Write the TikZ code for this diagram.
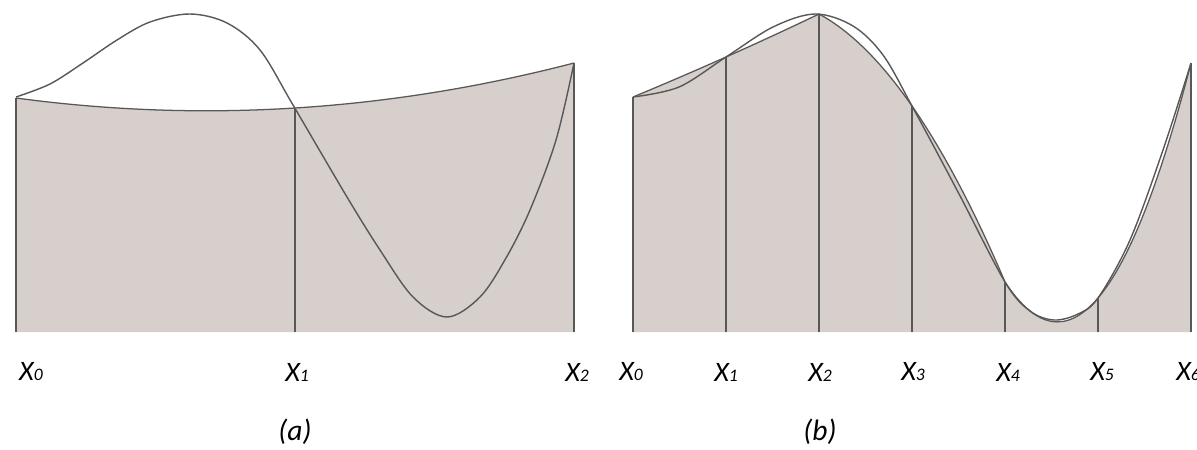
\documentclass[tikz,border=0pt]{standalone}
\usepackage{fontspec}
\setmainfont{Carlito}
\usetikzlibrary{calc}
\definecolor{areafill}{RGB}{214,207,203}
\definecolor{penline}{RGB}{88,88,88}
\newcommand\xlab[1]{X{\fontsize{12.5}{14}\selectfont #1}}

\begin{document}
\begin{tikzpicture}[
    x=0.025cm, y=-0.025cm,
    ord/.style={line width=0.9pt, draw=penline},
    approx/.style={line width=0.9pt, draw=penline},
    curve/.style={line width=1pt, draw=penline},
    lab/.style={font=\fontsize{20}{24}\selectfont\itshape, inner sep=0pt},
    panelcap/.style={font=\fontsize{21}{25}\selectfont\itshape, inner sep=0pt}
]
\useasboundingbox (0,0) rectangle (1197,449);
\coordinate (base) at (0,332);

% (a) one parabola over [x0,x2]
\coordinate (a0) at (16,98);
\coordinate (a1) at (295,108);
\coordinate (a2) at (574,63);
\coordinate (ca) at ($2*(a1)-0.5*(a0)-0.5*(a2)$);
\fill[areafill] (a0 |- base) -- (a0)
    .. controls ($(a0)!2/3!(ca)$) and ($(a2)!2/3!(ca)$) .. (a2) -- (a2 |- base) -- cycle;
\foreach \i in {0,1,2}
    \draw[ord] (a\i |- base) -- (a\i);
\draw[approx] (a0) .. controls ($(a0)!2/3!(ca)$) and ($(a2)!2/3!(ca)$) .. (a2);

% (b) three parabolas over six strips
\foreach \i/\y in {0/97, 1/57, 2/14, 3/106, 4/282, 5/298, 6/63}
    \coordinate (b\i) at ({633+93*\i},\y);
\foreach \i/\j/\k in {1/0/2, 3/2/4, 5/4/6}
    \coordinate (c\i) at ($2*(b\i)-0.5*(b\j)-0.5*(b\k)$);
\fill[areafill] (b0 |- base) -- (b0)
    .. controls ($(b0)!2/3!(c1)$) and ($(b2)!2/3!(c1)$) .. (b2)
    .. controls ($(b2)!2/3!(c3)$) and ($(b4)!2/3!(c3)$) .. (b4)
    .. controls ($(b4)!2/3!(c5)$) and ($(b6)!2/3!(c5)$) .. (b6)
    -- (b6 |- base) -- cycle;
\foreach \i in {0,...,6}
    \draw[ord] (b\i |- base) -- (b\i);
\draw[approx] (b0)
    .. controls ($(b0)!2/3!(c1)$) and ($(b2)!2/3!(c1)$) .. (b2)
    .. controls ($(b2)!2/3!(c3)$) and ($(b4)!2/3!(c3)$) .. (b4)
    .. controls ($(b4)!2/3!(c5)$) and ($(b6)!2/3!(c5)$) .. (b6);

% the function
\draw[curve, shift={(16,0)}] plot[smooth, tension=0.55] coordinates {
    (0,97) (34,84) (67,63) (101,40) (134,22) (174,14) (211,23) (244,50)
    (277,105) (331,197) (364,250) (397,297) (431,317) (464,297) (490,258)
    (514,210) (540,140) (558,63)};
\draw[curve, shift={(633,0)}] plot[smooth, tension=0.55] coordinates {
    (0,97) (46,87) (93,57) (140,27) (182,14) (220,26) (250,55) (279,106)
    (325,192) (372,282) (397,311) (421,320) (445,314) (465,298) (497,240)
    (530,150) (558,63)};

% labels
\node[lab] (la0) at (31,372)  {\xlab{0}};
\node[lab] (la1) at (297,372) {\xlab{1}};
\node[lab] (la2) at (577,372) {\xlab{2}};
\foreach \i/\x in {0/631, 1/726, 2/820, 3/913, 4/1008, 5/1102, 6/1188}
    \node[lab] (lb\i) at (\x,372) {\xlab{\i}};
\node[panelcap] (capa) at (295,432) {(a)};
\node[panelcap] (capb) at (820,432) {(b)};
\end{tikzpicture}
\end{document}
